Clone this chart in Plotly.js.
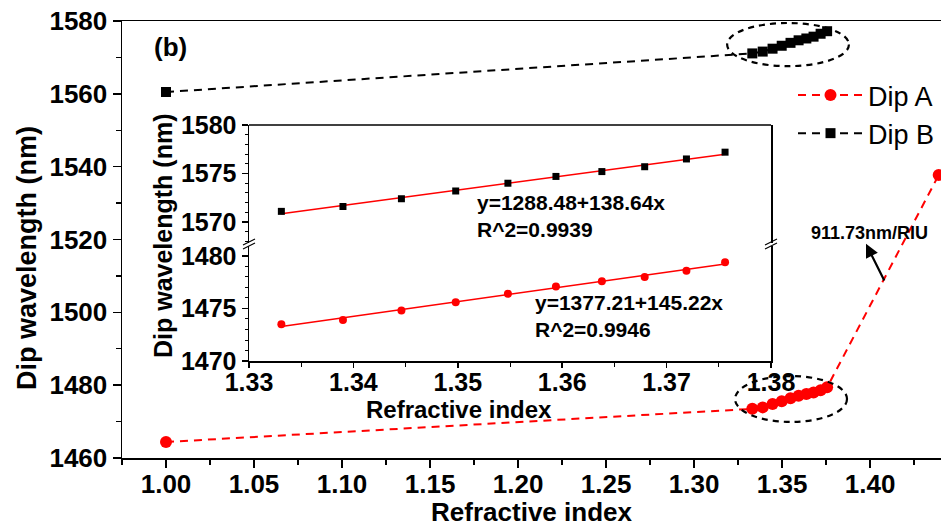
<!DOCTYPE html>
<html>
<head>
<meta charset="utf-8">
<script src="https://cdn.plot.ly/plotly-3.0.1.min.js"></script>
<style>html,body{margin:0;padding:0;background:#fff;}#chart{width:941px;height:527px;}</style>
</head>
<body>
<div id="chart"></div>
<script>
// ---- data ----
const airRI = 1.00;                 // refractive index of air
const dipA_air = 1464.4;
const dipB_air = 1560.5;
const liquidRI = [1.3331, 1.3390, 1.3446, 1.3498, 1.3548, 1.3594, 1.3638, 1.3679, 1.3719, 1.3756];
const dipA_liquid = [1473.5, 1473.9, 1474.8, 1475.6, 1476.4, 1477.1, 1477.6, 1478.0, 1478.6, 1479.4];
const dipB_liquid = [1571.1, 1571.6, 1572.4, 1573.2, 1574.0, 1574.7, 1575.2, 1575.7, 1576.5, 1577.2];
const highRI = 1.439;
const dipA_high = 1537.7;

const fitTextB = ["y=1288.48+138.64x", "R^2=0.9939"];
const fitTextA = ["y=1377.21+145.22x", "R^2=0.9946"];
const sensText = "911.73nm/RIU";
const panelLabel = "(b)";
const seriesNames = ["Dip A", "Dip B"];
const yTitle = "Dip wavelength (nm)";
const xTitle = "Refractive index";

// ---- helpers ----
function linFit(xs, ys) {
  const n = xs.length;
  const mx = xs.reduce((a, b) => a + b, 0) / n;
  const my = ys.reduce((a, b) => a + b, 0) / n;
  let sxy = 0, sxx = 0;
  for (let i = 0; i < n; i++) { sxy += (xs[i] - mx) * (ys[i] - my); sxx += (xs[i] - mx) ** 2; }
  const b = sxy / sxx, a = my - b * mx;
  const x0 = Math.min(...xs), x1 = Math.max(...xs);
  return { x: [x0, x1], y: [a + b * x0, a + b * x1] };
}
const fitA = linFit(liquidRI, dipA_liquid);
const fitB = linFit(liquidRI, dipB_liquid);

const FONT = "Liberation Sans, Arial, sans-serif";
const boldFont = (s) => ({ family: FONT, size: s, color: "#000", weight: "bold" });

// pixel -> paper helpers for plot area (l=122, t=21, w=819, h=437)
const PL = 122, PT = 21, PW = 819, PH = 437;
const px = (X) => (X - PL) / PW;
const py = (Y) => (PT + PH - Y) / PH;

const traces = [
  { x: [airRI, ...liquidRI, highRI], y: [dipA_air, ...dipA_liquid, dipA_high],
    name: seriesNames[0], type: "scatter", mode: "lines+markers", xaxis: "x", yaxis: "y",
    line: { color: "#ff0000", width: 2, dash: "8px,6px" },
    marker: { symbol: "circle", size: 12, color: "#ff0000" } },
  { x: [airRI, ...liquidRI], y: [dipB_air, ...dipB_liquid],
    name: seriesNames[1], type: "scatter", mode: "lines+markers", xaxis: "x", yaxis: "y",
    line: { color: "#000000", width: 2, dash: "8px,6px" },
    marker: { symbol: "square", size: 10, color: "#000000" } },
  // inset
  { x: fitA.x, y: fitA.y, type: "scatter", mode: "lines", xaxis: "x2", yaxis: "y3",
    line: { color: "#ff0000", width: 1.5 }, showlegend: false, hoverinfo: "skip" },
  { x: liquidRI, y: dipA_liquid, type: "scatter", mode: "markers", xaxis: "x2", yaxis: "y3",
    marker: { symbol: "circle", size: 8, color: "#ff0000" }, showlegend: false },
  { x: fitB.x, y: fitB.y, type: "scatter", mode: "lines", xaxis: "x2", yaxis: "y4",
    line: { color: "#ff0000", width: 1.5 }, showlegend: false, hoverinfo: "skip" },
  { x: liquidRI, y: dipB_liquid, type: "scatter", mode: "markers", xaxis: "x2", yaxis: "y4",
    marker: { symbol: "square", size: 7, color: "#000000" }, showlegend: false }
];

const axisBase = {
  showgrid: false, zeroline: false, showline: true, linecolor: "#000", linewidth: 1.5,
  ticks: "outside", tickcolor: "#000", tickwidth: 1.5, mirror: true
};

// inset domains (pixels -> paper)
const insetX = [px(249), px(771)];
const insetYbot = [py(361), py(246)];
const insetYtop = [py(243), py(125)];

function breakMarks(X) {
  const out = [];
  [[0, 0], [0, 4]].forEach(([dx, dy]) => {
    out.push({ type: "line", xref: "paper", yref: "paper",
      x0: px(X - 6), y0: py(247 + dy - 2), x1: px(X + 6), y1: py(241 + dy - 2),
      line: { color: "#000", width: 1.2 } });
  });
  return out;
}

const layout = {
  width: 941, height: 527,
  margin: { l: PL, r: 0, t: PT, b: 527 - PT - PH },
  paper_bgcolor: "#fff", plot_bgcolor: "#fff",
  showlegend: true,
  legend: { x: px(793), y: py(71), xanchor: "left", yanchor: "top", itemwidth: 65,
    font: { family: FONT, size: 27, color: "#000" }, bgcolor: "rgba(0,0,0,0)", tracegroupgap: 0 },
  xaxis: Object.assign({}, axisBase, {
    domain: [0, 1], range: [0.975, 1.4403], anchor: "y",
    tick0: 1.0, dtick: 0.05, tickformat: ".2f", ticklen: 8, ticklabelstandoff: -6,
    minor: { dtick: 0.025, ticks: "outside", ticklen: 5, tickcolor: "#000", tickwidth: 1.2 },
    tickfont: boldFont(26),
    title: { text: xTitle, font: boldFont(26), standoff: 2 }
  }),
  yaxis: Object.assign({}, axisBase, {
    domain: [0, 1], range: [1460, 1580], anchor: "x",
    tick0: 1460, dtick: 20, ticklen: 8,
    minor: { dtick: 10, ticks: "outside", ticklen: 5, tickcolor: "#000", tickwidth: 1.2 },
    tickfont: boldFont(26)
  }),
  xaxis2: Object.assign({}, axisBase, {
    domain: insetX, range: [1.33, 1.38], anchor: "y3",
    tick0: 1.33, dtick: 0.01, tickformat: ".2f", ticklen: 5, mirror: false, ticklabelstandoff: -7,
    minor: { dtick: 0.005, ticks: "outside", ticklen: 4, tickcolor: "#000", tickwidth: 1 },
    tickfont: boldFont(25)
  }),
  yaxis3: Object.assign({}, axisBase, {
    domain: insetYbot, range: [1470, 1480.95], anchor: "x2",
    tick0: 1470, dtick: 5, ticklen: 6,
    minor: { dtick: 1, ticks: "outside", ticklen: 3, tickcolor: "#000", tickwidth: 1 },
    tickfont: boldFont(25)
  }),
  yaxis4: Object.assign({}, axisBase, {
    domain: insetYtop, range: [1567.84, 1580], anchor: "x2",
    tick0: 1570, dtick: 5, ticklen: 6,
    minor: { dtick: 1, ticks: "outside", ticklen: 3, tickcolor: "#000", tickwidth: 1 },
    tickfont: boldFont(25)
  }),
  shapes: [
    { type: "line", xref: "paper", yref: "paper", x0: insetX[0], x1: insetX[1], y0: insetYtop[1], y1: insetYtop[1],
      line: { color: "#000", width: 1.5 } },
    { type: "circle", xref: "x", yref: "y", x0: 1.3188, x1: 1.388, y0: 1567.6, y1: 1579.45,
      line: { color: "#000", width: 2.2, dash: "6px,5px" } },
    { type: "circle", xref: "x", yref: "y", x0: 1.3233, x1: 1.3869, y0: 1469.9, y1: 1482.5,
      line: { color: "#000", width: 2.2, dash: "6px,5px" } },
    ...breakMarks(249), ...breakMarks(771)
  ],
  annotations: [
    { text: yTitle, xref: "paper", yref: "paper", x: px(27), y: py(258), textangle: -90,
      showarrow: false, font: boldFont(27), xanchor: "center", yanchor: "middle" },
    { text: panelLabel, xref: "paper", yref: "paper", x: px(170), y: py(47),
      showarrow: false, font: boldFont(26), xanchor: "center", yanchor: "middle" },
    { text: yTitle, xref: "paper", yref: "paper", x: px(163), y: py(236), textangle: -90,
      showarrow: false, font: boldFont(25), xanchor: "center", yanchor: "middle" },
    { text: xTitle, xref: "paper", yref: "paper", x: px(459), y: py(409),
      showarrow: false, font: boldFont(24), xanchor: "center", yanchor: "middle" },
    { text: fitTextB[0], xref: "paper", yref: "paper", x: px(475), y: py(202),
      showarrow: false, font: boldFont(21), xanchor: "left", yanchor: "middle" },
    { text: fitTextB[1], xref: "paper", yref: "paper", x: px(475), y: py(229),
      showarrow: false, font: boldFont(21), xanchor: "left", yanchor: "middle" },
    { text: fitTextA[0], xref: "paper", yref: "paper", x: px(533), y: py(303),
      showarrow: false, font: boldFont(21), xanchor: "left", yanchor: "middle" },
    { text: fitTextA[1], xref: "paper", yref: "paper", x: px(533), y: py(329),
      showarrow: false, font: boldFont(21), xanchor: "left", yanchor: "middle" },
    { text: sensText, xref: "paper", yref: "paper", x: px(869), y: py(233),
      showarrow: false, font: boldFont(18), xanchor: "center", yanchor: "middle" },
    { text: "", xref: "x", yref: "y", x: 1.3977, y: 1518.8, axref: "x", ayref: "y",
      ax: 1.4085, ay: 1508.3, showarrow: true, arrowhead: 2, arrowsize: 1.2, arrowwidth: 2.2,
      arrowcolor: "#000" }
  ]
};

Plotly.newPlot("chart", traces, layout, { staticPlot: true, displayModeBar: false });
</script>
</body>
</html>
